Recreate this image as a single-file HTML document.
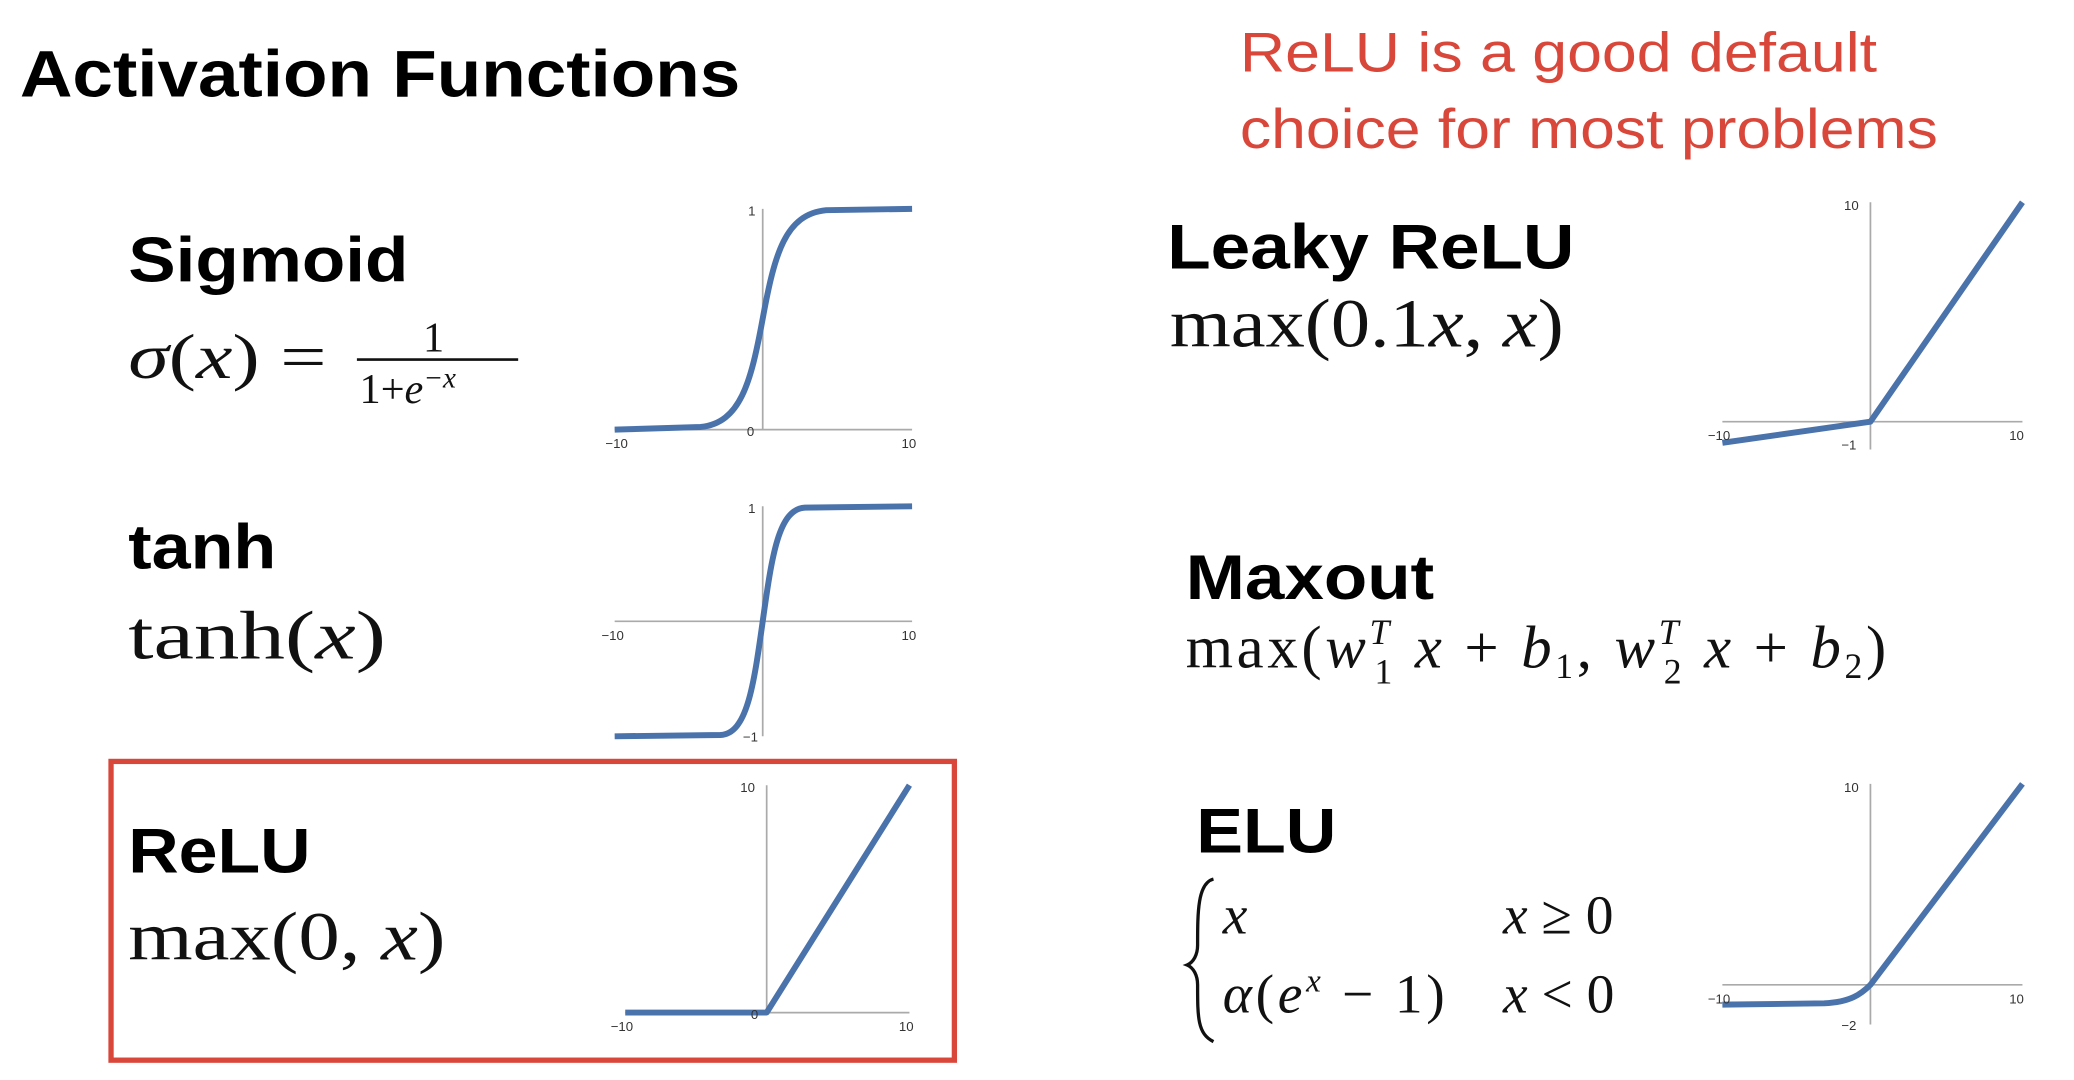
<!DOCTYPE html>
<html><head><meta charset="utf-8"><style>
html,body{margin:0;padding:0;background:#fff;}
svg{display:block;}
.h{font-family:"Liberation Sans",sans-serif;font-weight:bold;fill:#000;}
.m{font-family:"Liberation Serif",serif;fill:#111;}
.i{font-style:italic;}
.t{font-family:"Liberation Sans",sans-serif;font-size:10px;fill:#333;}
.ax{stroke:#aaa;stroke-width:1.3;fill:none;}
.cv{stroke:#4a72ab;stroke-width:4.5;fill:none;stroke-linejoin:round;}
</style></head><body>
<svg width="2074" height="1080" viewBox="0 0 1569 817" preserveAspectRatio="none">
<text x="15" y="73" class="h" font-size="50" textLength="545" lengthAdjust="spacingAndGlyphs">Activation Functions</text>
<text x="938" y="54" font-family="Liberation Sans,sans-serif" font-size="42" fill="#d9463a" textLength="482" lengthAdjust="spacingAndGlyphs">ReLU is a good default</text>
<text x="938" y="112" font-family="Liberation Sans,sans-serif" font-size="42" fill="#d9463a" textLength="528" lengthAdjust="spacingAndGlyphs">choice for most problems</text>

<!-- Sigmoid -->
<text x="97" y="213" class="h" font-size="48" textLength="212" lengthAdjust="spacingAndGlyphs">Sigmoid</text>
<text x="97" y="286" class="m" font-size="48" textLength="150" lengthAdjust="spacingAndGlyphs"><tspan class="i">σ</tspan>(<tspan class="i">x</tspan>) =</text>
<text x="320" y="266" class="m" font-size="32">1</text>
<line x1="270" y1="272" x2="392" y2="272" stroke="#111" stroke-width="2"/>
<text x="272" y="305" class="m" font-size="32">1+<tspan class="i">e</tspan><tspan font-size="22" dy="-12" class="i">−x</tspan></text>
<line x1="465" y1="325" x2="690" y2="325" class="ax"/><line x1="577" y1="158" x2="577" y2="325" class="ax"/>
<path class="cv" d="M465,325 L530,323 C560,320 568,290 577,241 C586,192 594,162 625,159 L690,158"/>
<text x="458" y="339" class="t">−10</text><text x="682" y="339" class="t">10</text><text x="566" y="163" class="t">1</text><text x="565" y="330" class="t">0</text>

<!-- tanh -->
<text x="97" y="430" class="h" font-size="48" textLength="112" lengthAdjust="spacingAndGlyphs">tanh</text>
<text x="97" y="498" class="m" font-size="52" textLength="195" lengthAdjust="spacingAndGlyphs">tanh(<tspan class="i">x</tspan>)</text>
<line x1="465" y1="470" x2="690" y2="470" class="ax"/><line x1="577" y1="383" x2="577" y2="557" class="ax"/>
<path class="cv" d="M465,557 L545,556 C565,555 570,520 577,470 C584,420 589,385 609,384 L690,383"/>
<text x="455" y="484" class="t">−10</text><text x="682" y="484" class="t">10</text><text x="566" y="388" class="t">1</text><text x="562" y="561" class="t">−1</text>

<!-- ReLU -->
<rect x="84" y="576" width="638" height="226" fill="none" stroke="#d9463a" stroke-width="4"/>
<text x="97" y="660" class="h" font-size="48" textLength="138" lengthAdjust="spacingAndGlyphs">ReLU</text>
<text x="97" y="726" class="m" font-size="52" textLength="240" lengthAdjust="spacingAndGlyphs">max(0, <tspan class="i">x</tspan>)</text>
<line x1="473" y1="766" x2="688" y2="766" class="ax"/><line x1="580" y1="594" x2="580" y2="766" class="ax"/>
<path class="cv" d="M473,766 L580,766 L688,594"/>
<text x="462" y="780" class="t">−10</text><text x="680" y="780" class="t">10</text><text x="560" y="599" class="t">10</text><text x="568" y="771" class="t">0</text>

<!-- Leaky ReLU -->
<text x="883" y="203" class="h" font-size="48" textLength="308" lengthAdjust="spacingAndGlyphs">Leaky ReLU</text>
<text x="885" y="262" class="m" font-size="52" textLength="298" lengthAdjust="spacingAndGlyphs">max(0.1<tspan class="i">x</tspan>, <tspan class="i">x</tspan>)</text>
<line x1="1303" y1="319" x2="1530" y2="319" class="ax"/><line x1="1415" y1="153" x2="1415" y2="340" class="ax"/>
<path class="cv" d="M1303,335 L1415,319 L1530,153"/>
<text x="1292" y="333" class="t">−10</text><text x="1520" y="333" class="t">10</text><text x="1395" y="159" class="t">10</text><text x="1393" y="340" class="t">−1</text>

<!-- Maxout -->
<text x="897" y="453" class="h" font-size="48" textLength="188" lengthAdjust="spacingAndGlyphs">Maxout</text>
<text x="897" y="505" class="m" font-size="46" textLength="530" lengthAdjust="spacing">max(<tspan class="i">w</tspan><tspan font-size="27" dy="-18" class="i">T</tspan><tspan font-size="27" dx="-14" dy="30">1</tspan><tspan dy="-12" class="i"> x</tspan> + <tspan class="i">b</tspan><tspan font-size="27" dy="8">1</tspan><tspan dy="-8">, </tspan><tspan class="i">w</tspan><tspan font-size="27" dy="-18" class="i">T</tspan><tspan font-size="27" dx="-14" dy="30">2</tspan><tspan dy="-12" class="i"> x</tspan> + <tspan class="i">b</tspan><tspan font-size="27" dy="8">2</tspan><tspan dy="-8">)</tspan></text>

<!-- ELU -->
<text x="905" y="645" class="h" font-size="48" textLength="106" lengthAdjust="spacingAndGlyphs">ELU</text>
<path d="M918,665 C906,668 906,690 906,715 C906,722 903,728 898,730 C903,732 906,738 906,745 C906,770 906,782 918,788" stroke="#111" stroke-width="2.5" fill="none"/>
<text x="925" y="706" class="m i" font-size="42">x</text>
<text x="1137" y="706" class="m" font-size="42"><tspan class="i">x</tspan> ≥ 0</text>
<text x="925" y="766" class="m" font-size="42" textLength="168" lengthAdjust="spacing"><tspan class="i">α</tspan>(<tspan class="i">e</tspan><tspan font-size="25" dy="-16" class="i">x</tspan><tspan dy="16"> − 1)</tspan></text>
<text x="1137" y="766" class="m" font-size="42"><tspan class="i">x</tspan> &lt; 0</text>
<line x1="1303" y1="745" x2="1530" y2="745" class="ax"/><line x1="1415" y1="593" x2="1415" y2="775" class="ax"/>
<path class="cv" d="M1303,760 L1380,759 C1400,758 1408,752 1415,745 L1530,593"/>
<text x="1292" y="759" class="t">−10</text><text x="1520" y="759" class="t">10</text><text x="1395" y="599" class="t">10</text><text x="1393" y="779" class="t">−2</text>
</svg>
</body></html>
